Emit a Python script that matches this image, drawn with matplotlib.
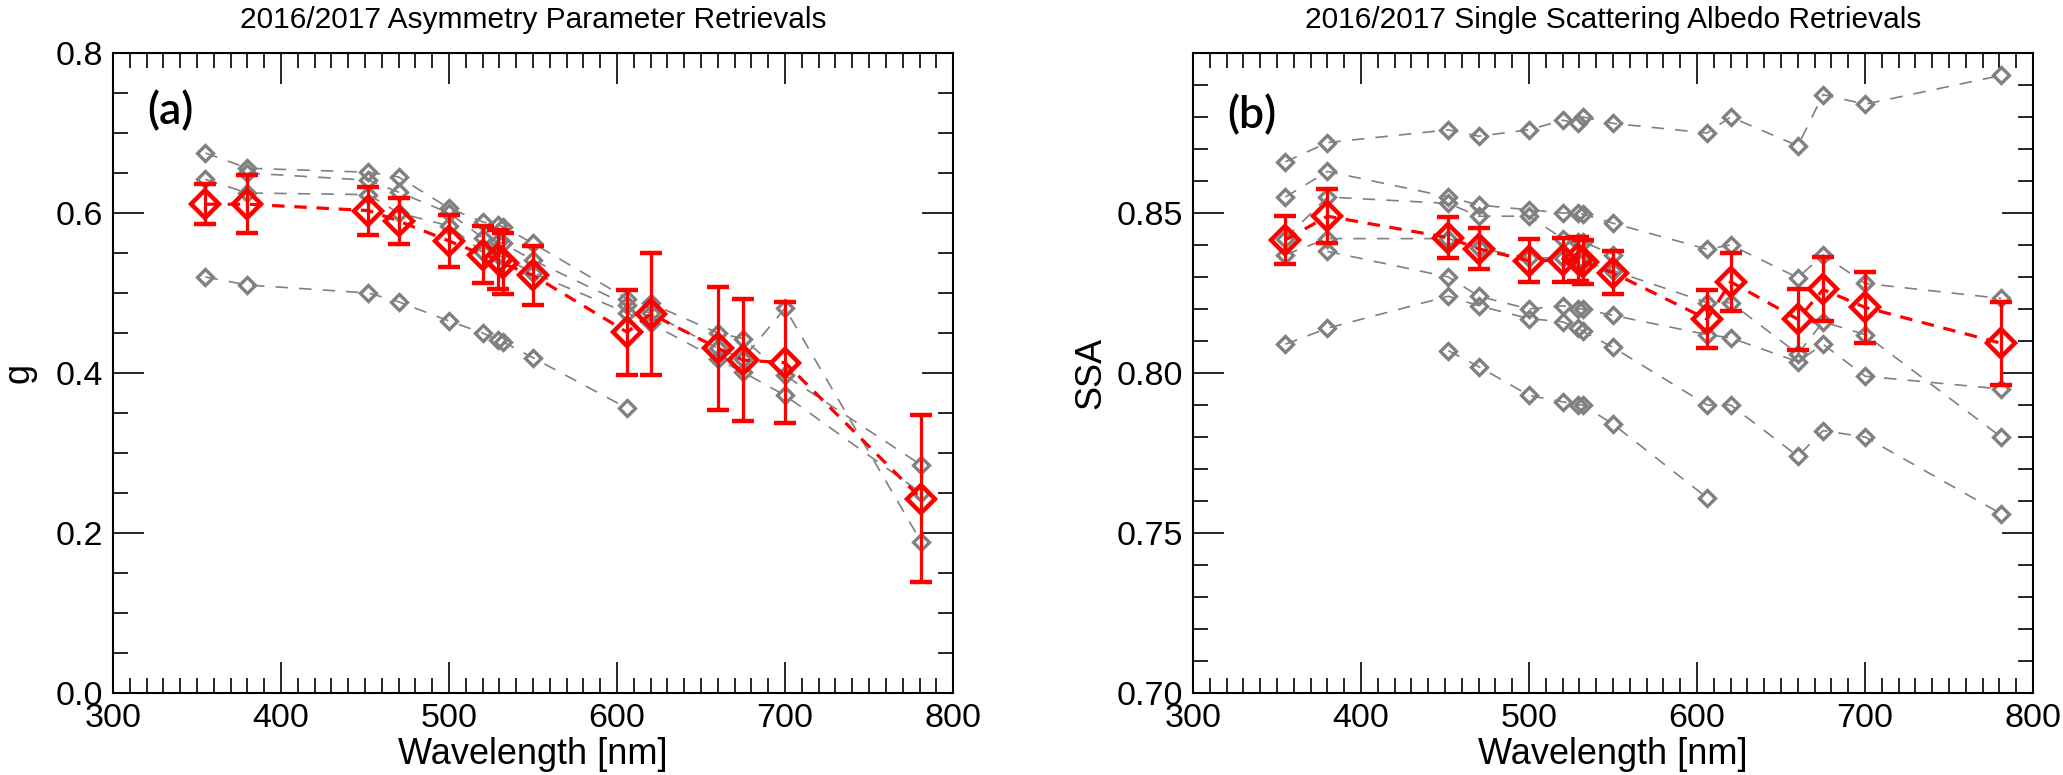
import numpy as np
import matplotlib
matplotlib.use("Agg")
import matplotlib.pyplot as plt
from matplotlib.ticker import MultipleLocator, FixedLocator, FixedFormatter

plt.rcParams['font.family'] = ['Liberation Sans', 'DejaVu Sans']
plt.rcParams['lines.scale_dashes'] = False

nan = np.nan

# wavelengths [nm]
wl = [355, 380, 452, 470, 500, 520, 529, 532, 550, 606, 620, 660, 675, 700, 781]

# (a) asymmetry parameter, mean retrieval and its error
g_mean = [0.611, 0.611, 0.603, 0.590, 0.565, 0.548, 0.542, 0.537, 0.522,
          0.451, 0.474, 0.431, 0.416, 0.413, 0.243]
g_err = [0.025, 0.036, 0.030, 0.029, 0.032, 0.036, 0.037, 0.038, 0.037,
         0.053, 0.076, 0.077, 0.076, 0.076, 0.104]

# individual retrievals (grey)
g_1 = [0.675, 0.656, 0.651, 0.645, 0.606, 0.589, 0.585, 0.583, 0.562,
       0.493, 0.487, 0.450, 0.443, 0.397, 0.285]
g_2 = [nan, 0.650, 0.641, 0.626, 0.600, 0.569, 0.564, 0.562, 0.541,
       0.485, 0.475, 0.431, 0.418, 0.481, 0.189]
g_3 = [0.642, 0.625, 0.623, 0.600, 0.584, 0.551, 0.547, 0.545, 0.525,
       0.475, 0.462, 0.417, 0.401, 0.372, 0.250]
g_4 = [0.520, 0.510, 0.500, 0.489, 0.465, 0.450, 0.441, 0.439, 0.419,
       0.356, nan, nan, nan, nan, nan]

# (b) single scattering albedo
ssa_mean = [0.8416, 0.8490, 0.8423, 0.8388, 0.8351, 0.8353, 0.8356, 0.8348, 0.8313,
            0.8168, 0.8285, 0.8168, 0.8261, 0.8205, 0.8093]
ssa_err = [0.0075, 0.0085, 0.0065, 0.0064, 0.0068, 0.0070, 0.0070, 0.0069, 0.0067,
           0.0090, 0.0090, 0.0095, 0.0100, 0.0110, 0.0130]

ssa_1 = [0.866, 0.872, 0.876, 0.874, 0.876, 0.879, 0.878, 0.880, 0.878,
         0.875, 0.880, 0.871, 0.887, 0.884, 0.893]
ssa_2 = [0.855, 0.863, 0.855, 0.8525, 0.851, 0.850, 0.850, 0.8497, 0.8468,
         0.8387, 0.840, 0.8298, 0.8369, 0.828, 0.8233]
ssa_3 = [0.842, 0.855, 0.853, 0.849, 0.849, 0.842, 0.841, 0.841, 0.837,
         nan, nan, nan, nan, nan, nan]
ssa_4 = [0.837, 0.842, 0.842, 0.839, 0.836, 0.836, 0.835, 0.835, 0.832,
         0.822, 0.822, 0.806, 0.816, 0.812, 0.780]
ssa_5 = [nan, 0.838, 0.830, 0.824, 0.820, 0.821, 0.820, 0.820, 0.818,
         0.812, 0.811, 0.8035, 0.809, 0.799, 0.795]
ssa_6 = [0.809, 0.814, 0.824, 0.821, 0.817, 0.816, 0.814, 0.813, 0.808,
         0.790, 0.790, 0.774, 0.782, 0.780, 0.756]
ssa_7 = [nan, nan, 0.807, 0.802, 0.793, 0.791, 0.790, 0.790, 0.784,
         0.761, nan, nan, nan, nan, nan]


def style_axes(ax):
    ax.set_xlim(300, 800)
    ax.xaxis.set_major_locator(MultipleLocator(100))
    ax.xaxis.set_minor_locator(MultipleLocator(10))
    ax.tick_params(which='both', direction='in', top=True, right=True,
                   labelsize=24.5, width=1.2, pad=7)
    ax.tick_params(which='major', length=22)
    ax.tick_params(which='minor', length=11)
    for s in ax.spines.values():
        s.set_linewidth(1.5)
    ax.set_xlabel('Wavelength [nm]', fontsize=26, labelpad=2)


def draw(ax, series, mean, err):
    for s in series:
        ax.plot(wl, s, color='gray', ls=(0, (9, 8)), lw=1.2, marker='D', ms=8,
                mfc='none', mec='gray', mew=2.4, zorder=2)
    ax.errorbar(wl, mean, yerr=err, color='red', ls=(0, (9, 7)), lw=2.3,
                marker='D', ms=14, mfc='none', mec='red', mew=3.2,
                ecolor='red', elinewidth=2.3, capsize=8, capthick=2.4,
                zorder=3)


fig = plt.figure(figsize=(20.63, 7.75), dpi=100)
ax1 = fig.add_axes([0.0548, 0.1058, 0.4072, 0.8258])
ax2 = fig.add_axes([0.5783, 0.1058, 0.4072, 0.8258])

# (a)
draw(ax1, [g_1, g_2, g_3, g_4], g_mean, g_err)
style_axes(ax1)
ax1.set_ylim(0.0, 0.8)
ax1.yaxis.set_major_locator(MultipleLocator(0.2))
ax1.yaxis.set_minor_locator(MultipleLocator(0.05))
ax1.yaxis.set_major_formatter(matplotlib.ticker.FormatStrFormatter('%.1f'))
ax1.set_ylabel('g', fontsize=26, labelpad=14)
ax1.set_title('2016/2017 Asymmetry Parameter Retrievals', fontsize=21.5, pad=18)
ax1.text(0.068, 0.909, '(a)', transform=ax1.transAxes, fontsize=32,
         family='Lato', fontweight='semibold', ha='center', va='center')

# (b)
draw(ax2, [ssa_1, ssa_2, ssa_3, ssa_4, ssa_5, ssa_6, ssa_7], ssa_mean, ssa_err)
style_axes(ax2)
ax2.set_ylim(0.70, 0.90)
ax2.yaxis.set_major_locator(FixedLocator([0.70, 0.75, 0.80, 0.85, 0.90]))
ax2.yaxis.set_major_formatter(FixedFormatter(['0.70', '0.75', '0.80', '0.85', '']))
ax2.yaxis.set_minor_locator(MultipleLocator(0.01))
ax2.set_ylabel('SSA', fontsize=26, labelpad=6)
ax2.set_title('2016/2017 Single Scattering Albedo Retrievals', fontsize=21.5, pad=18)
ax2.text(0.070, 0.903, '(b)', transform=ax2.transAxes, fontsize=32,
         family='Lato', fontweight='semibold', ha='center', va='center')

fig.savefig('out.png', dpi=100)
